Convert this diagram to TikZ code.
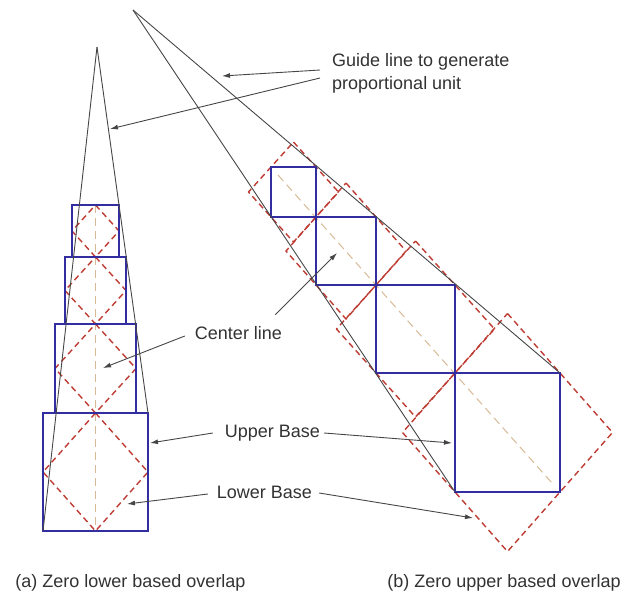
\documentclass[tikz,border=0pt]{standalone}
\usepackage{fontspec}
\setmainfont{Liberation Sans}
\usetikzlibrary{arrows.meta}
\definecolor{sqblue}{RGB}{50,45,160}
\definecolor{diamred}{RGB}{190,60,50}
\definecolor{guidegray}{RGB}{70,70,70}
\definecolor{centretan}{RGB}{215,185,150}
\definecolor{textgray}{RGB}{50,50,50}

\begin{document}
\begin{tikzpicture}[x=1pt,y=-1pt]
  \tikzstyle{upperbase}=[draw=sqblue,line width=1.8pt]
  \tikzstyle{lowerbase}=[draw=diamred,line width=1.4pt,dash pattern=on 6pt off 4pt]
  \tikzstyle{guideline}=[draw=guidegray,line width=0.9pt]
  \tikzstyle{centreline}=[draw=centretan,line width=1pt,dash pattern=on 8pt off 5pt]
  \tikzstyle{note}=[inner sep=0pt,font=\fontsize{18}{23}\selectfont,text=textgray]
  \tikzstyle{pointer}=[draw=guidegray,line width=0.9pt,-{Latex[length=8pt,width=5pt]}]

  \useasboundingbox (0,0) rectangle (636,598);

  % (a) zero lower based overlap
  \coordinate (apexL) at (97,47);
  \draw[centreline] (95.5,205) -- (95.5,531);
  \draw[lowerbase] (95.5,205) -- (119,231) -- (95.5,257) -- (72,231) -- cycle;
  \draw[lowerbase] (95.5,257) -- (126,290.5) -- (95.5,324) -- (65,290.5) -- cycle;
  \draw[lowerbase] (95.5,324) -- (136,368.5) -- (95.5,413) -- (55,368.5) -- cycle;
  \draw[lowerbase] (95.5,413) -- (148,472) -- (95.5,531) -- (43,472) -- cycle;
  \draw[upperbase] (72,205) rectangle (119,257);
  \draw[upperbase] (65,257) rectangle (126,324);
  \draw[upperbase] (55,324) rectangle (136,413);
  \draw[upperbase] (43,413) rectangle (148,531);
  \draw[guideline] (apexL) -- (43,531);
  \draw[guideline] (apexL) -- (148,413);

  % (b) zero upper based overlap
  \coordinate (apexR) at (133,10);
  \draw[centreline] (278,175) -- (552,483);
  \draw[lowerbase] (293.5,142) -- (338.5,192) -- (293.5,242) -- (248.5,192) -- cycle;
  \draw[lowerbase] (346,183) -- (406,251) -- (346,319) -- (286,251) -- cycle;
  \draw[lowerbase] (415.5,241) -- (494.5,329) -- (415.5,417) -- (336.5,329) -- cycle;
  \draw[lowerbase] (507.5,313.5) -- (612.5,432.5) -- (507.5,551.5) -- (402.5,432.5) -- cycle;
  \draw[upperbase] (271,167) rectangle (316,217);
  \draw[upperbase] (316,217) rectangle (376,285);
  \draw[upperbase] (376,285) rectangle (455,373);
  \draw[upperbase] (455,373) rectangle (560,492);
  \draw[guideline] (apexR) -- (455,492);
  \draw[guideline] (apexR) -- (560,373);

  % labels
  \node[note,anchor=west,align=left] (guide) at (332,73.5) {Guide line to generate\\proportional unit};
  \node[note] (centre) at (238.5,333.5) {Center line};
  \node[note] (upper) at (272.5,433) {Upper Base};
  \node[note] (lower) at (264.5,492) {Lower Base};
  \node[note] (capa) at (130.5,583) {(a) Zero lower based overlap};
  \node[note] (capb) at (504,583) {(b) Zero upper based overlap};

  \coordinate (guideR) at (222,76);
  \coordinate (guideL) at (110,129);
  \coordinate (centreL) at (103,368);
  \coordinate (centreR) at (337,253);
  \coordinate (upperL) at (150,443);
  \coordinate (upperR) at (452,443);
  \coordinate (lowerL) at (127,504);
  \coordinate (lowerR) at (473,518);

  \draw[pointer] ([xshift=-12pt,yshift=3.5pt]guide.west) -- (guideR);
  \draw[pointer] ([xshift=-12pt,yshift=-4.5pt]guide.west) -- (guideL);
  \draw[pointer] ([xshift=-10pt,yshift=-2.5pt]centre.west) -- (centreL);
  \draw[pointer] ([xshift=-7pt,yshift=12pt]centre.north east) -- (centreR);
  \draw[pointer] ([xshift=-12pt]upper.west) -- (upperL);
  \draw[pointer] ([xshift=4pt]upper.east) -- (upperR);
  \draw[pointer] ([xshift=-9pt,yshift=-2pt]lower.west) -- (lowerL);
  \draw[pointer] ([xshift=7pt,yshift=-1pt]lower.east) -- (lowerR);
\end{tikzpicture}
\end{document}
